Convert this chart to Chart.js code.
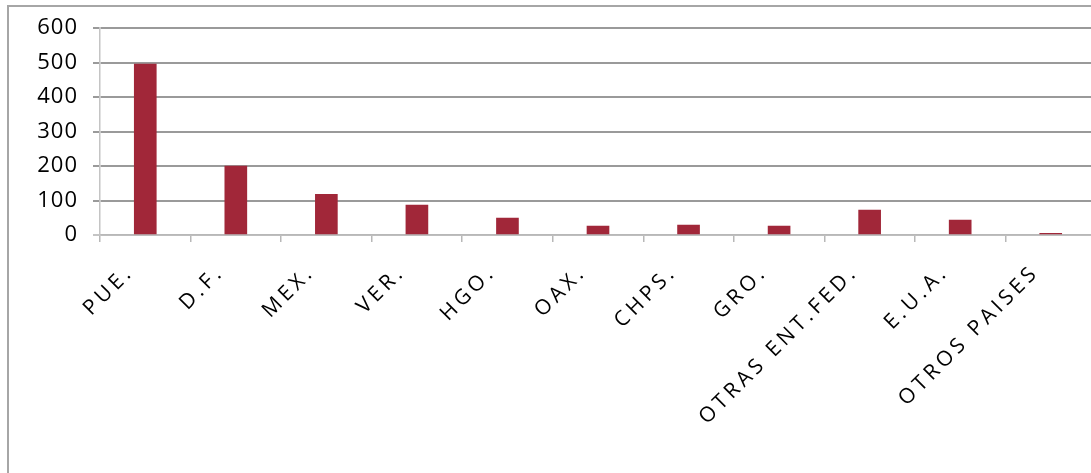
<!DOCTYPE html>
<html>
<head>
<meta charset="utf-8">
<script src="https://cdn.jsdelivr.net/npm/chart.js@4"></script>
<style>
  html, body { margin: 0; padding: 0; background: #fff; overflow: hidden; }
  #frame { position: absolute; left: 7px; top: 5px; width: 1200px; height: 600px;
           border-left: 2px solid #a6a6a6; border-top: 2px solid #a6a6a6; }
  #wrap { position: absolute; left: 0; top: 0; width: 1100px; height: 473px; }
</style>
</head>
<body>
<div id="frame"></div>
<div id="wrap"><canvas id="chart"></canvas></div>
<script>
const categories = ["PUE.", "D.F.", "MEX.", "VER.", "HGO.", "OAX.", "CHPS.", "GRO.", "OTRAS ENT.FED.", "E.U.A.", "OTROS PAISES"];
const values = [496, 200, 118, 87, 49, 26, 29, 26, 72, 43, 5];
const yTicks = [0, 100, 200, 300, 400, 500, 600];

// excel-ish stretched text: spacing for y labels first, x labels after datasets
const spacingPlugin = {
  id: "spacing",
  beforeDraw(chart) { chart.ctx.letterSpacing = "1px"; },
  afterDatasetsDraw(chart) { chart.ctx.letterSpacing = "4px"; },
  afterDraw(chart) { chart.ctx.letterSpacing = "0px"; }
};

new Chart(document.getElementById("chart"), {
  type: "bar",
  data: {
    labels: categories,
    datasets: [{
      data: values,
      backgroundColor: "#a12739",
      barThickness: 22
    }]
  },
  options: {
    responsive: true,
    maintainAspectRatio: false,
    animation: false,
    layout: { padding: { top: 27, right: 4, left: 0, bottom: 0 } },
    plugins: { legend: { display: false }, tooltip: { enabled: false } },
    scales: {
      x: {
        offset: true,
        afterFit(s) { s.height = 238; },
        grid: { drawOnChartArea: false, drawTicks: true, tickLength: 7, color: "#b8b8b8", lineWidth: 1.5 },
        border: { color: "#b8b8b8", width: 1.5 },
        ticks: {
          z: 1,
          autoSkip: false,
          minRotation: 45,
          maxRotation: 45,
          labelOffset: -15,
          padding: 18,
          color: "#000",
          font: { family: "Open Sans, sans-serif", size: 21 }
        }
      },
      y: {
        min: 0,
        max: 600,
        afterFit(s) { s.width = 100; },
        afterBuildTicks(s) { s.ticks = yTicks.map(v => ({ value: v })); },
        grid: {
          tickLength: 7,
          lineWidth: 2,
          color: ctx => (ctx.tick && ctx.tick.value === 0) ? "#c4c4c4" : "#9a9a9a"
        },
        border: { color: "#c4c4c4", width: 1.5 },
        ticks: {
          padding: 15,
          color: "#000",
          font: { family: "Open Sans, sans-serif", size: 22 }
        }
      }
    }
  },
  plugins: [spacingPlugin]
});
</script>
</body>
</html>
